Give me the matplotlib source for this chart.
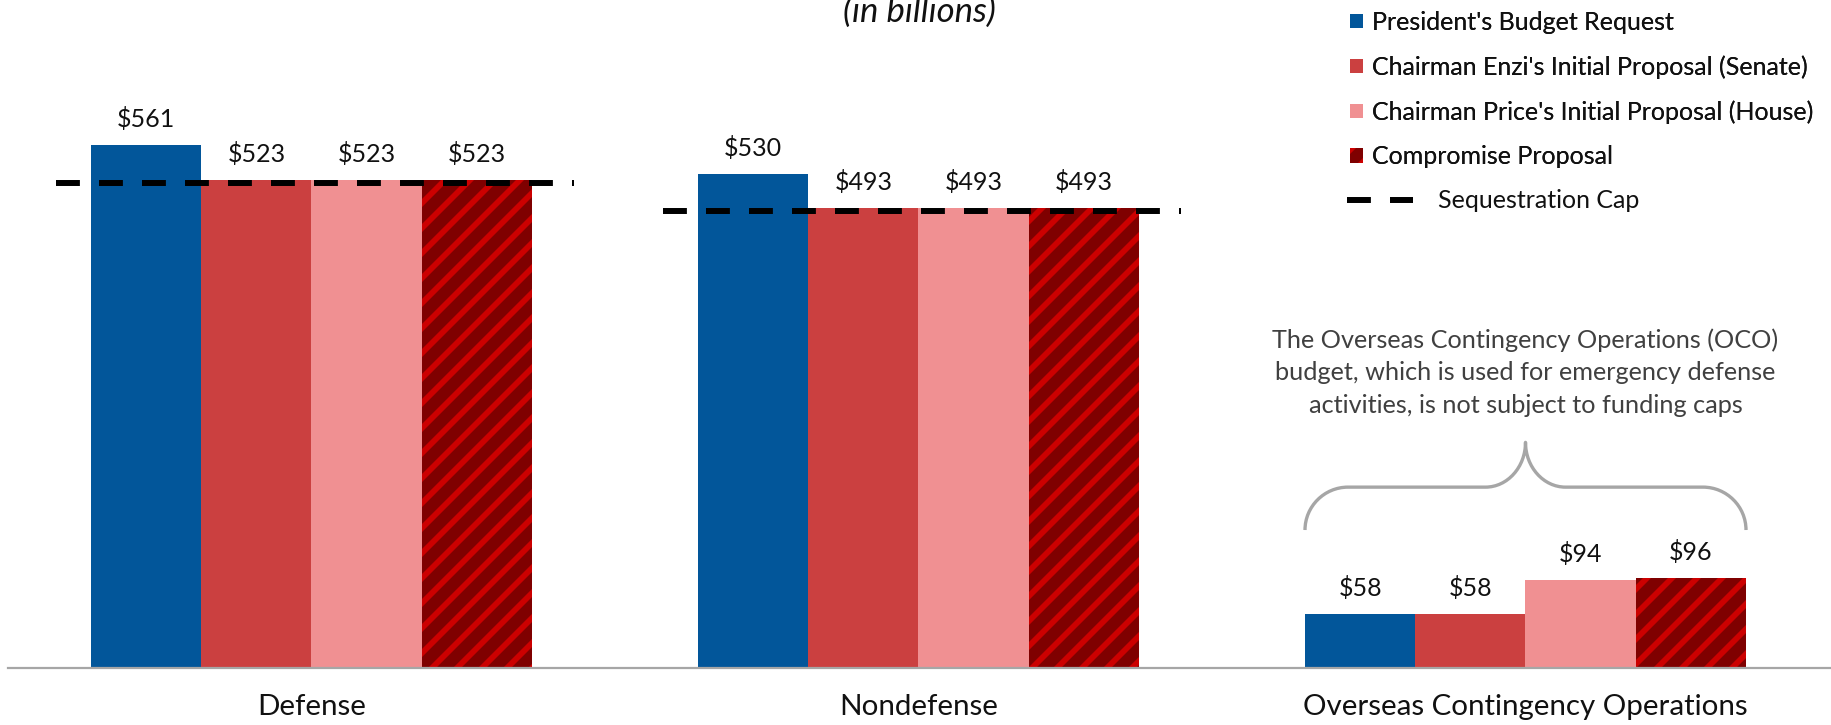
import matplotlib
matplotlib.use("Agg")
import matplotlib.pyplot as plt
from matplotlib.patches import Patch, PathPatch
from matplotlib.lines import Line2D
from matplotlib.path import Path
import numpy as np

DPI = 75
S = 100 / DPI          # sizes below are chosen as "points at 100 dpi"

plt.rcParams['font.family'] = ['Lato', 'DejaVu Sans']
plt.rcParams['hatch.linewidth'] = 5.5

# ---------------- data ----------------
categories = ['Defense', 'Nondefense', 'Overseas Contingency Operations']
series_names = ["President's Budget Request",
                "Chairman Enzi's Initial Proposal (Senate)",
                "Chairman Price's Initial Proposal (House)",
                "Compromise Proposal"]
president = [561, 530, 58]
enzi = [523, 493, 58]
price = [523, 493, 94]
compromise = [523, 493, 96]
sequestration_cap = [520, 490]          # Defense, Nondefense
cap_label = 'Sequestration Cap'
title_text = '(in billions)'
note_text = ('The Overseas Contingency Operations (OCO)\n'
             'budget, which is used for emergency defense\n'
             'activities, is not subject to funding caps')

# ---------------- style ----------------
colors = ['#02569A', '#CB4040', '#F09092', '#7F0000']
hatch_color = '#CC0000'
W, H = 1831, 725
fig = plt.figure(figsize=(W / DPI, H / DPI), dpi=DPI)
axis_y_px = 668
ax = fig.add_axes([0, (H - axis_y_px) / H, 1, axis_y_px / H])
group_px = 607.0
center0_px = 311.5
px_per_unit = 0.9323
ax.set_xlim(-center0_px / group_px, (W - center0_px) / group_px)
ax.set_ylim(0, axis_y_px / px_per_unit)
ax.axis('off')

bw = 110.25 / group_px
x = np.arange(len(categories))
series = [president, enzi, price, compromise]
offsets = [-1.5, -0.5, 0.5, 1.5]
for vals, col, off, name in zip(series, colors, offsets, series_names):
    if col == '#7F0000':
        ax.bar(x + off * bw, vals, bw, facecolor=col, edgecolor=hatch_color,
               hatch='/', linewidth=0, label=name, zorder=2)
    else:
        ax.bar(x + off * bw, vals, bw, color=col, linewidth=0, label=name, zorder=2)
    for xi, v in zip(x + off * bw, vals):
        ax.annotate(f'${v}', (xi, v), xytext=(0, 13 * S), textcoords='offset points',
                    ha='center', va='baseline', fontsize=18 * S, color='#111111')

# axis line
ax.axhline(0, xmin=8 / W, xmax=1, color='#a6a6a6', lw=1.6 * S, zorder=3, clip_on=False)

# category labels
for xi, cat in zip(x, categories):
    ax.annotate(cat, (xi, 0), xytext=(0, -34 * S), textcoords='offset points',
                ha='center', va='baseline', fontsize=21.2 * S, color='#111111')

# sequestration cap lines
ext_l, ext_r = 35 / group_px, 42 / group_px
cap_style = dict(color='black', lw=4.3 * S, linestyle=(0, (4, 3.2)),
                 dash_capstyle='butt', zorder=5)
for xi, c in zip(x, sequestration_cap):
    ax.plot([xi - 2 * bw - ext_l, xi + 2 * bw + ext_r], [c, c], **cap_style)

# brace over OCO group
oco = len(categories) - 1
top_oco = max(s[oco] for s in series)
xl, xr, xc = oco - 2 * bw, oco + 2 * bw, oco
yb, ym, yt = top_oco + 52, top_oco + 98, top_oco + 146
rx = 43 / group_px
cx = 40 / group_px
k = 0.55
verts = [(xl, yb),
         (xl, yb + k * (ym - yb)), (xl + rx - k * rx, ym), (xl + rx, ym),
         (xc - cx, ym),
         (xc - cx + k * cx, ym), (xc, yt - k * (yt - ym)), (xc, yt),
         (xc, yt - k * (yt - ym)), (xc + cx - k * cx, ym), (xc + cx, ym),
         (xr - rx, ym),
         (xr - rx + k * rx, ym), (xr, yb + k * (ym - yb)), (xr, yb)]
codes = [Path.MOVETO,
         Path.CURVE4, Path.CURVE4, Path.CURVE4,
         Path.LINETO,
         Path.CURVE4, Path.CURVE4, Path.CURVE4,
         Path.CURVE4, Path.CURVE4, Path.CURVE4,
         Path.LINETO,
         Path.CURVE4, Path.CURVE4, Path.CURVE4]
ax.add_patch(PathPatch(Path(verts, codes), fill=False, edgecolor='#a6a6a6', lw=2.4 * S,
                       capstyle='butt', joinstyle='round', zorder=4))

ax.text(xc, yt + 75, note_text, ha='center', va='center', fontsize=18.2 * S,
        color='#404040', linespacing=1.5, multialignment='center')

# title (partly cut off at top, as in the original)
fig.text(919 / W, 1 - 22 / H, title_text, ha='center', va='baseline',
         fontsize=25 * S, style='italic', color='#111111')

# legends
handles = [Patch(facecolor=colors[0], lw=0),
           Patch(facecolor=colors[1], lw=0),
           Patch(facecolor=colors[2], lw=0),
           Patch(facecolor=colors[3], edgecolor=hatch_color, hatch='/', lw=0)]
leg1 = fig.legend(handles, series_names, loc='center left',
                  bbox_to_anchor=(1350 / W, 1 - 89.5 / H), frameon=False,
                  fontsize=18 * S, handlelength=0.52, handleheight=0.52,
                  handletextpad=0.36, labelspacing=0.86, borderpad=0,
                  borderaxespad=0, labelcolor='#111111')
fig.add_artist(leg1)
cap_handle = Line2D([], [], **{k2: v for k2, v in cap_style.items() if k2 != 'zorder'})
leg2 = fig.legend([cap_handle], [cap_label], loc='center left',
                  bbox_to_anchor=(1347 / W, 1 - 201 / H), frameon=False,
                  fontsize=18 * S, handlelength=2.64, handletextpad=1.0, borderpad=0,
                  borderaxespad=0, labelcolor='#111111')

fig.savefig('out.png', dpi=DPI)
